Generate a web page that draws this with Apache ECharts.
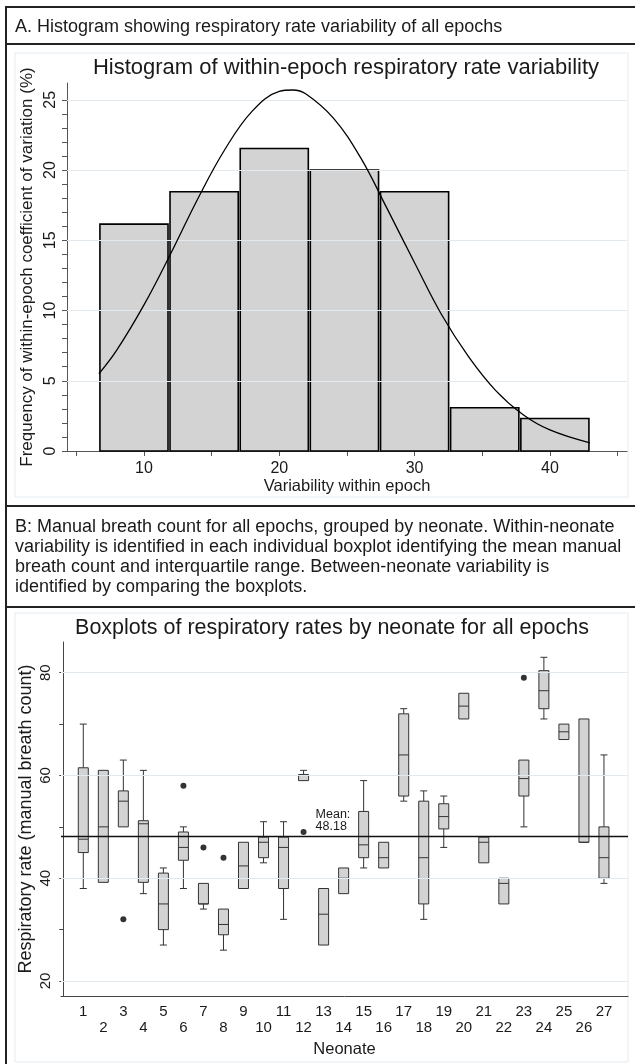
<!DOCTYPE html>
<html><head><meta charset="utf-8">
<script src="https://cdn.jsdelivr.net/npm/echarts@6/dist/echarts.min.js"></script>
<style>html,body{margin:0;padding:0;background:#fff}#c{width:635px;height:1064px}</style>
</head><body><div id="c"></div>
<script>
// ---------- Panel A: histogram ----------
const binEdges = [6.67, 11.85, 17.04, 22.22, 27.41, 32.59, 37.78, 42.96];
const binFreq = [16.15, 18.46, 21.54, 20.0, 18.46, 3.08, 2.31];
const curveX = [6.67, 8, 10, 12, 14, 16, 18, 20, 21, 22, 24, 26, 28, 30, 32, 34, 36, 38, 40, 42.96];
const curveY = [5.5, 7.2, 10.4, 14.1, 18.0, 21.5, 24.2, 25.6, 25.7, 25.4, 23.7, 20.9, 17.2, 13.4, 9.7, 6.7, 4.3, 2.6, 1.5, 0.58];
const histXLabels = [10, 20, 30, 40];
const histXTicks = [5, 10, 15, 20, 25, 30, 35, 40, 45];
const histYLabels = [0, 5, 10, 15, 20, 25];
const histYTicks = [0,1,2,3,4,5,6,7,8,9,10,11,12,13,14,15,16,17,18,19,20,21,22,23,24,25];

// ---------- Panel B: boxplots ----------
const neonates = [1,2,3,4,5,6,7,8,9,10,11,12,13,14,15,16,17,18,19,20,21,22,23,24,25,26,27];
const whiskerLow  = [38, 39.2, 50, 37, 27, 38, 34, 26, 38, 43, 32, 59, 27, 37, 42, 42, 55, 32, 46, 71, 43, 35, 50, 71, 67, 47, 39];
const q1          = [45, 39.2, 50, 39.2, 30, 43.5, 35, 29, 38, 44, 38, 59, 27, 37, 44, 42, 56, 35, 49.6, 71, 43, 35, 56, 73, 67, 47, 40];
const medians     = [47.6, 50, 55, 50.6, 35, 46, 35, 31, 42.4, 47, 46, 60, 33, 40, 46.5, 44, 64, 44, 52, 73.5, 47, 39, 59.4, 76.5, 68.5, 47, 44];
const q3          = [61.5, 61, 57, 51.2, 41, 49, 39, 34, 47, 48, 48, 60.2, 38, 42, 53, 47, 72, 55, 54.5, 76, 48, 40, 63, 80.4, 70, 71, 50];
const whiskerHigh = [70, 61, 63, 61, 42, 50, 39, 34, 47, 51, 51, 61, 38, 42, 59, 47, 73, 57, 56, 76, 48, 40, 63, 83, 70, 71, 64];
const outliers = [[3, 32], [6, 58], [7, 46], [8, 44], [12, 49], [23, 79]];
const meanRate = 48.18;
const boxYLabels = [20, 40, 60, 80];
const boxYTicks = [20, 30, 40, 50, 60, 70, 80];

const FONT = 'Liberation Sans, Arial, Helvetica, sans-serif';
const TXT = '#1a1a1a';
const GRIDC = '#e1e9ee';

const chart = echarts.init(document.getElementById('c'), null, {renderer: 'canvas'});

const histData = binFreq.map((f, i) => [binEdges[i], binEdges[i + 1], f]);
const curveData = curveX.map((x, i) => [x, curveY[i]]);
const boxData = neonates.map((n, i) => [n, whiskerLow[i], q1[i], medians[i], q3[i], whiskerHigh[i]]);

function line(x1, y1, x2, y2, w, c) {
  return {type: 'line', silent: true, z: 100, shape: {x1, y1, x2, y2}, style: {stroke: c || '#222', lineWidth: w || 2}};
}
function text(x, y, t, size, align) {
  return {type: 'text', silent: true, z: 100, x, y, style: {text: t, font: size + 'px ' + FONT, fill: TXT, textAlign: align || 'left', textVerticalAlign: 'middle'}};
}

const bLines = [
  'B: Manual breath count for all epochs, grouped by neonate. Within-neonate',
  'variability is identified in each individual boxplot identifying the mean manual',
  'breath count and interquartile range. Between-neonate variability is',
  'identified by comparing the boxplots.'
];

const graphics = [
  {type: 'rect', silent: true, z: 0, shape: {x: 15, y: 53, width: 613, height: 444}, style: {fill: 'none', stroke: '#e4ecf0', lineWidth: 1}},
  {type: 'rect', silent: true, z: 0, shape: {x: 15, y: 613, width: 613, height: 449}, style: {fill: 'none', stroke: '#e4ecf0', lineWidth: 1}},
  line(6, 7, 635, 7),
  line(6, 6, 6, 1064),
  line(6, 44, 635, 44),
  line(6, 506, 635, 506),
  line(6, 607, 635, 607),
  text(15, 27, 'A. Histogram showing respiratory rate variability of all epochs', 18),
  text(346, 68, 'Histogram of within-epoch respiratory rate variability', 22, 'center'),
  text(332, 628, 'Boxplots of respiratory rates by neonate for all epochs', 21.5, 'center')
];
bLines.forEach((t, i) => graphics.push(text(15, 527 + i * 20, t, 18)));

const axisLineStyle = {color: '#555', width: 1};

const option = {
  animation: false,
  textStyle: {fontFamily: FONT, color: TXT},
  grid: [
    {left: 67, top: 83, width: 560, height: 368},
    {left: 61, top: 642, width: 567, height: 354}
  ],
  xAxis: [
    {
      type: 'value', gridIndex: 0, min: 4.31, max: 45.7,
      axisLine: {show: true, lineStyle: axisLineStyle},
      axisTick: {show: true, customValues: histXTicks, length: 5, lineStyle: axisLineStyle},
      axisLabel: {customValues: histXLabels, fontSize: 16, margin: 10, color: TXT},
      splitLine: {show: false},
      name: 'Variability within epoch', nameLocation: 'middle', nameGap: 25,
      nameTextStyle: {fontSize: 16.5, color: TXT}
    },
    {
      type: 'value', gridIndex: 1, min: -0.113, max: 28.2,
      axisLine: {show: true, lineStyle: {color: '#444', width: 1}},
      axisTick: {show: false},
      axisLabel: {customValues: neonates, fontSize: 15, margin: 8, color: TXT, lineHeight: 16,
        formatter: v => (v % 2 ? String(v) : '\n' + v)},
      splitLine: {show: false},
      name: 'Neonate', nameLocation: 'middle', nameGap: 45,
      nameTextStyle: {fontSize: 16.5, color: TXT}
    }
  ],
  yAxis: [
    {
      type: 'value', gridIndex: 0, min: 0, max: 26.2,
      axisLine: {show: true, lineStyle: axisLineStyle},
      axisTick: {show: true, customValues: histYTicks, length: 5, lineStyle: axisLineStyle},
      axisLabel: {customValues: histYLabels, rotate: 90, fontSize: 16, margin: 8, color: TXT},
      splitLine: {show: false},
      name: 'Frequency of within-epoch coefficient of variation (%)', nameLocation: 'middle', nameGap: 31,
      nameMoveOverlap: false,
      nameTextStyle: {fontSize: 17, color: TXT}
    },
    {
      type: 'value', gridIndex: 1, min: 17.08, max: 85.98,
      axisLine: {show: true, lineStyle: {color: '#444', width: 1}},
      axisTick: {show: true, customValues: boxYTicks, length: 4, lineStyle: {color: '#444'}},
      axisLabel: {customValues: boxYLabels, rotate: 90, fontSize: 15, margin: 8, color: TXT},
      splitLine: {show: false},
      name: 'Respiratory rate (manual breath count)', nameLocation: 'middle', nameGap: 26,
      nameMoveOverlap: false,
      nameTextStyle: {fontSize: 18, color: TXT}
    }
  ],
  graphic: graphics,
  series: [
    { // histogram gridlines
      type: 'line', xAxisIndex: 0, yAxisIndex: 0, data: [], z: 1, silent: true,
      markLine: {silent: true, symbol: ['none', 'none'], label: {show: false},
        lineStyle: {color: GRIDC, width: 1.2, type: 'solid'},
        data: histYLabels.filter(v => v > 0).map(v => ({yAxis: v}))}
    },
    {
      type: 'custom', xAxisIndex: 0, yAxisIndex: 0, z: 3, data: histData,
      encode: {x: [0, 1], y: 2},
      renderItem(params, api) {
        const p0 = api.coord([api.value(0), api.value(2)]);
        const p1 = api.coord([api.value(1), 0]);
        return {type: 'rect',
          shape: {x: p0[0] + 1, y: p0[1], width: p1[0] - p0[0] - 2, height: p1[1] - p0[1]},
          style: {fill: '#d3d3d3', stroke: '#000', lineWidth: 1.6}};
      }
    },
    {
      type: 'line', xAxisIndex: 0, yAxisIndex: 0, z: 5, data: curveData, smooth: 0.4,
      showSymbol: false, symbol: 'none', lineStyle: {color: '#000', width: 1.3}
    },
    { // boxplot gridlines
      type: 'line', xAxisIndex: 1, yAxisIndex: 1, data: [], z: 1, silent: true,
      markLine: {silent: true, symbol: ['none', 'none'], label: {show: false},
        lineStyle: {color: GRIDC, width: 1.2, type: 'solid'},
        data: boxYLabels.map(v => ({yAxis: v}))}
    },
    {
      type: 'custom', xAxisIndex: 1, yAxisIndex: 1, z: 3, data: boxData,
      encode: {x: 0, y: [1, 2, 3, 4, 5]},
      renderItem(params, api) {
        const x = api.value(0);
        const c = v => api.coord([x, v]);
        const lo = c(api.value(1)), b1 = c(api.value(2)), md = c(api.value(3)), b3 = c(api.value(4)), hi = c(api.value(5));
        const cx = lo[0], hw = 5, cw = 3.5;
        const st = {stroke: '#333', lineWidth: 1};
        const ch = [];
        if (api.value(5) > api.value(4)) {
          ch.push({type: 'line', shape: {x1: cx, y1: hi[1], x2: cx, y2: b3[1]}, style: st});
          ch.push({type: 'line', shape: {x1: cx - cw, y1: hi[1], x2: cx + cw, y2: hi[1]}, style: st});
        }
        if (api.value(1) < api.value(2)) {
          ch.push({type: 'line', shape: {x1: cx, y1: lo[1], x2: cx, y2: b1[1]}, style: st});
          ch.push({type: 'line', shape: {x1: cx - cw, y1: lo[1], x2: cx + cw, y2: lo[1]}, style: st});
        }
        ch.push({type: 'rect', shape: {x: cx - hw, y: b3[1], width: hw * 2, height: b1[1] - b3[1]},
          style: {fill: '#d3d3d3', stroke: '#333', lineWidth: 1}});
        ch.push({type: 'line', shape: {x1: cx - hw, y1: md[1], x2: cx + hw, y2: md[1]}, style: st});
        return {type: 'group', children: ch};
      }
    },
    {
      type: 'scatter', xAxisIndex: 1, yAxisIndex: 1, z: 6, data: outliers,
      symbol: 'circle', symbolSize: 6, itemStyle: {color: '#000'},
      markLine: {silent: true, symbol: ['none', 'none'], label: {show: false},
        lineStyle: {color: '#111', width: 1.4, type: 'solid'},
        data: [{yAxis: meanRate}]}
    }
  ]
};
chart.setOption(option);

// mean annotation anchored to the data coordinate of the mean line
const anchor = chart.convertToPixel({xAxisIndex: 1, yAxisIndex: 1}, [12.6, meanRate]);
chart.setOption({graphic: graphics.concat([
  {type: 'text', silent: true, z: 100, x: anchor[0], y: anchor[1] - 3,
   style: {text: 'Mean:\n' + meanRate.toFixed(2), font: '12.5px ' + FONT, fill: TXT, lineHeight: 12.5,
     textAlign: 'left', textVerticalAlign: 'bottom'}}
])});
</script>
</body></html>
